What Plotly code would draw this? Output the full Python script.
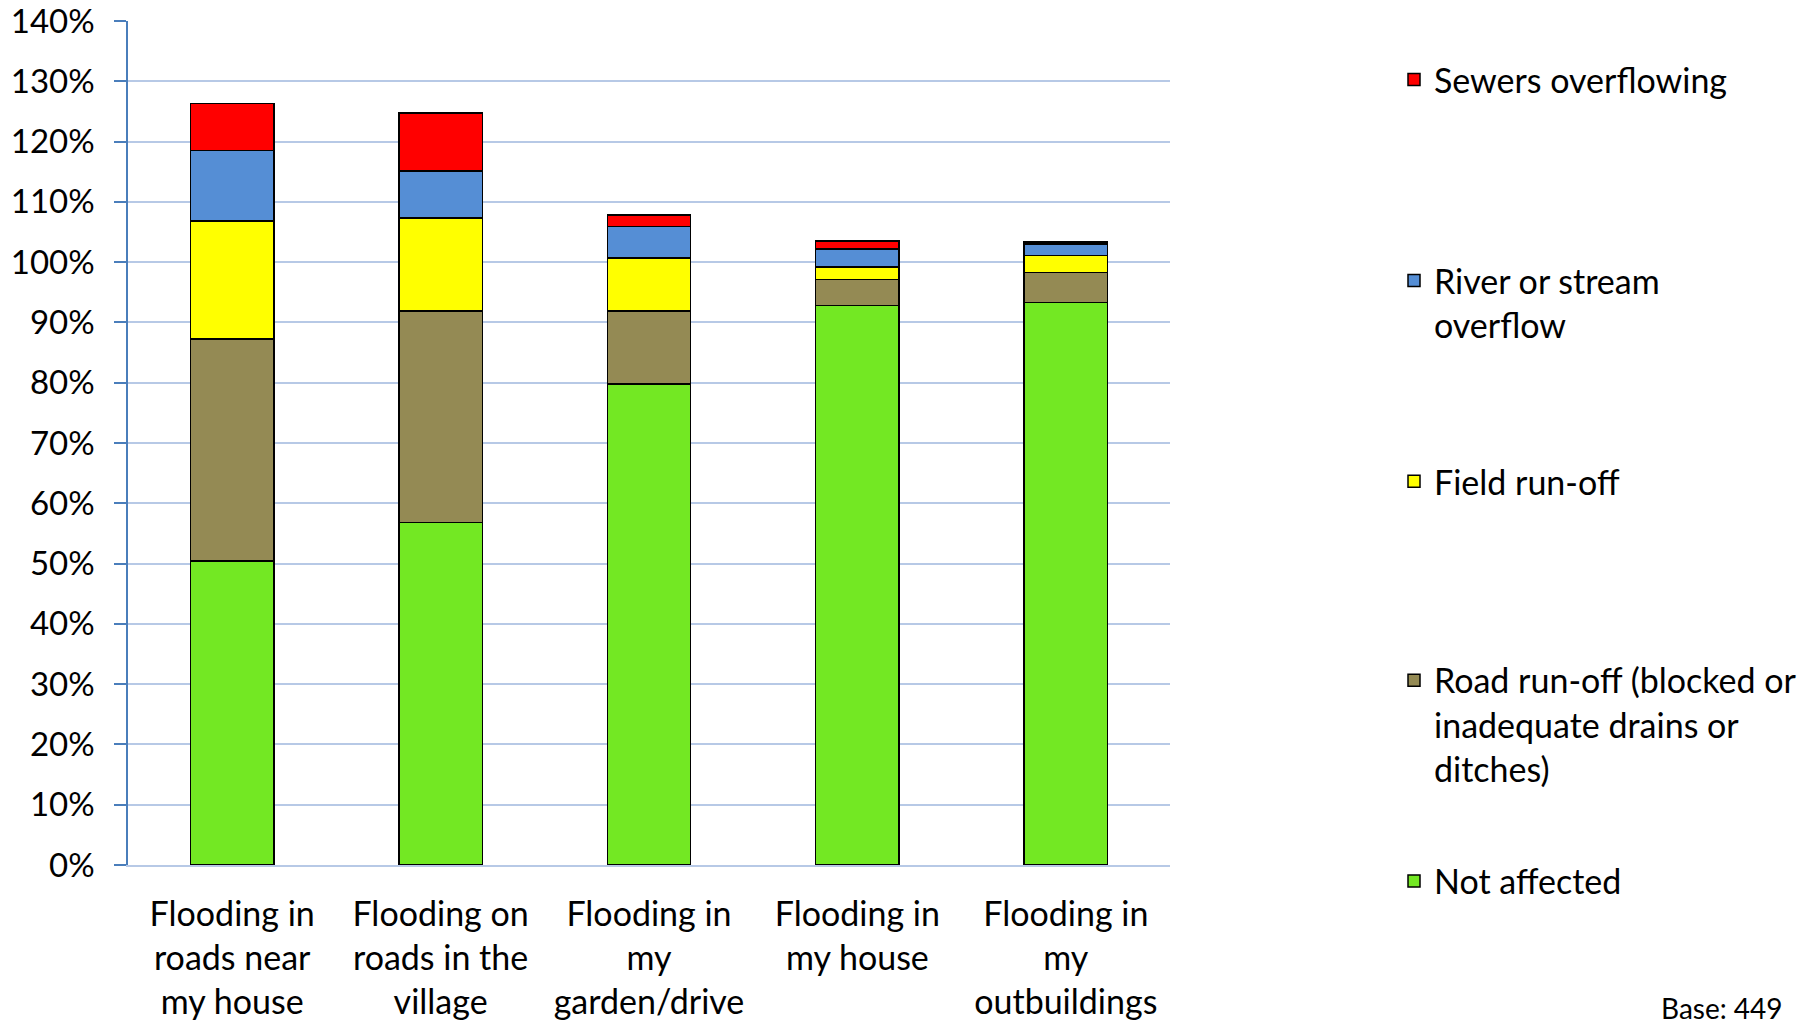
import plotly.graph_objects as go

categories = ["Flooding in<br>roads near<br>my house", "Flooding on<br>roads in the<br>village",
              "Flooding in<br>my<br>garden/drive", "Flooding in<br>my house", "Flooding in<br>my<br>outbuildings"]

not_affected = [50.4, 56.8, 79.8, 92.8, 93.3]
road_runoff = [36.85, 35.1, 12.1, 4.3, 4.95]
field_runoff = [19.6, 15.4, 8.75, 2.1, 2.85]
river_overflow = [11.65, 7.85, 5.3, 2.95, 1.95]
sewers = [7.8, 9.55, 1.85, 1.35, 0.3]

series = [
    ("Not affected", not_affected, "#73E823"),
    ("Road run-off (blocked or<br>inadequate drains or<br>ditches)", road_runoff, "#948A54"),
    ("Field run-off", field_runoff, "#FFFF00"),
    ("River or stream<br>overflow", river_overflow, "#558ED5"),
    ("Sewers overflowing", sewers, "#FF0000"),
]

FONT = "Lato"
OFF = 8  # page body margin
W, H = 1820 - OFF, 1024 - OFF
# plot area in page pixels
P_LEFT, P_RIGHT, P_TOP, P_BOTTOM = 128, 1170, 21, 865.5
ML = P_LEFT - OFF
MR = W - (P_RIGHT - OFF)
MT = P_TOP - OFF
MB = H - (P_BOTTOM - OFF)
pw = W - ML - MR
ph = H - MT - MB

def py(page_px):
    return (P_BOTTOM - page_px) / ph

def px(page_px):
    return (page_px - P_LEFT) / pw

legend_tops = [853, 652, 453, 252, 51]
legend_names = ["legend5", "legend4", "legend3", "legend2", "legend"]

fig = go.Figure()
for i, (name, vals, col) in enumerate(series):
    fig.add_trace(go.Bar(
        x=categories, y=vals, name=name,
        marker=dict(color=col, line=dict(color="black", width=1.5)),
        legend=legend_names[i],
    ))

layout_legends = {}
for i, (name, vals, col) in enumerate(series):
    layout_legends[legend_names[i]] = dict(
        x=px(1394), xanchor="left", y=py(legend_tops[i]), yanchor="top",
        font=dict(family=FONT, size=34, color="black"), valign="top",
        bgcolor="rgba(0,0,0,0)",
    )

fig.update_layout(
    width=W, height=H,
    margin=dict(l=ML, r=MR, t=MT, b=MB, autoexpand=False),
    barmode="stack", bargap=0.6,
    plot_bgcolor="white", paper_bgcolor="white",
    font=dict(family=FONT, size=33, color="black"),
    showlegend=True,
    **layout_legends,
)

fig.update_xaxes(
    showgrid=False, showline=True, linecolor="#B7C9E6", linewidth=1.5,
    ticks="outside", ticklen=18, tickcolor="rgba(0,0,0,0)", automargin=False,
    tickfont=dict(family=FONT, size=34, color="black"),
)
fig.update_yaxes(
    range=[0, 140], dtick=10, ticksuffix="%",
    showgrid=True, gridcolor="#B7C9E6", gridwidth=1.5,
    showline=True, linecolor="#4A7EBB", linewidth=1.5,
    ticks="outside", ticklen=12, tickcolor="#4A7EBB", tickwidth=1.5,
    ticklabelstandoff=13, zeroline=False, automargin=False,
    ticklabeloverflow="allow",
    tickfont=dict(family=FONT, size=33, color="black"),
)

fig.add_annotation(
    text="Base: 449", xref="paper", yref="paper", x=px(1785), y=py(990),
    xanchor="right", yanchor="top", showarrow=False,
    font=dict(family=FONT, size=28, color="black"),
)

fig.write_html("out.html")
